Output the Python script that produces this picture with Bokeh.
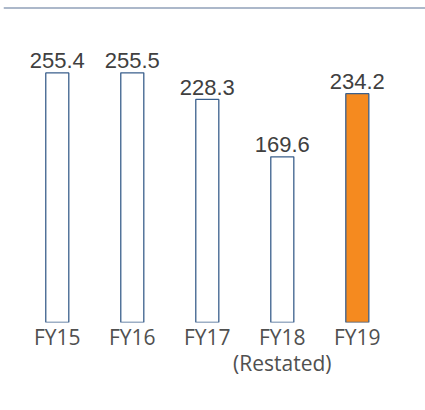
from bokeh.plotting import figure
from bokeh.models import Range1d, FixedTicker, Span, ColumnDataSource
from bokeh.core.properties import value
from bokeh.embed import file_html
from bokeh.resources import INLINE

categories = ["FY15", "FY16", "FY17", "FY18\n(Restated)", "FY19"]
values = [255.4, 255.5, 228.3, 169.6, 234.2]
labels = ["255.4", "255.5", "228.3", "169.6", "234.2"]
fills = ["white", "white", "white", "white", "#f58a1f"]

xs = list(range(len(categories)))
src = ColumnDataSource(dict(x=xs, top=values, label=labels, fill=fills))

p = figure(width=425, height=379, output_backend="svg", toolbar_location=None,
           x_range=Range1d(-0.717, 4.909), y_range=Range1d(0, 322.4),
           min_border_left=3, min_border_right=0, min_border_top=7, min_border_bottom=0)
p.outline_line_color = None
p.grid.visible = False
p.yaxis.visible = False
p.background_fill_color = "white"

p.vbar(x="x", top="top", bottom=0, width=0.307, source=src, fill_color="fill",
       line_color="#3a5f8c", line_width=1.3)
p.text(x="x", y="top", text="label", source=src, text_align="center",
       text_baseline="alphabetic", y_offset=-12, text_font=value("Liberation Sans"),
       text_font_size="22px", text_color="#404040")

p.add_layout(Span(location=322.4, dimension="width", line_color="#5a7396", line_width=2))

ax = p.xaxis[0]
ax.ticker = FixedTicker(ticks=xs)
ax.major_label_overrides = {i: c for i, c in enumerate(categories)}
ax.axis_line_color = None
ax.major_tick_line_color = None
ax.minor_tick_line_color = None
ax.major_label_text_font = "Open Sans"
ax.major_label_text_font_size = "21px"
ax.major_label_text_color = "#505050"
ax.major_label_text_line_height = 0.94
ax.major_label_standoff = -6

open("out.html", "w").write(file_html(p, INLINE))
